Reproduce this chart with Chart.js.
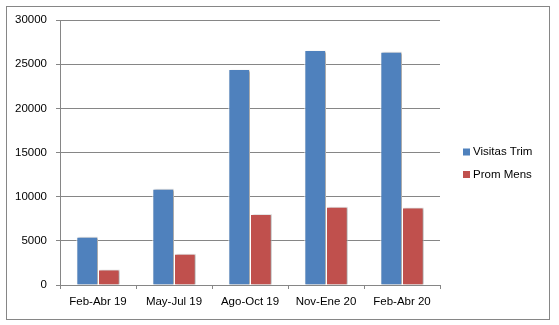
<!DOCTYPE html>
<html>
<head>
<meta charset="utf-8">
<script src="https://cdn.jsdelivr.net/npm/chart.js@4"></script>
<style>
	html, body { margin: 0; padding: 0; background: #fff; }
	#wrap { width: 559px; height: 325px; position: relative; }
</style>
</head>
<body>
<div id="wrap"><canvas id="chart" width="559" height="325"></canvas></div>
<script>
	// periodos y valores
	const periodos = ["Feb-Abr 19", "May-Jul 19", "Ago-Oct 19", "Nov-Ene 20", "Feb-Abr 20"];
	const visitasTrim = [5450, 10900, 24450, 26600, 26400];
	const promMens = [1750, 3550, 8050, 8870, 8780];
	const serieNombres = ["Visitas Trim", "Prom Mens"];
	const colores = ["#4F81BD", "#C0504D"];

	const fuente = "'Liberation Sans', Arial, sans-serif";
	const gris = "#868686";

	// marco exterior y leyenda a la derecha
	const marcoLeyenda = {
		id: "marcoLeyenda",
		beforeDraw(chart) {
			const c = chart.ctx;
			c.save();
			c.strokeStyle = gris;
			c.lineWidth = 1;
			c.strokeRect(6.5, 6.5, 543, 313);
			c.restore();
		},
		afterDraw(chart) {
			const c = chart.ctx;
			c.save();
			c.font = "11.5px " + fuente;
			c.textBaseline = "middle";
			serieNombres.forEach((nombre, i) => {
				const y = 152 + i * 22.5;
				c.fillStyle = colores[i];
				c.fillRect(463, y - 3.5, 7, 7);
				c.fillStyle = "#000";
				c.fillText(nombre, 473, y);
			});
			c.restore();
		},
	};

	// sombra suave de las barras
	const sombra = {
		id: "sombra",
		beforeDatasetsDraw(chart) {
			const c = chart.ctx;
			c.save();
			c.shadowColor = "rgba(0,0,0,0.35)";
			c.shadowBlur = 2;
			c.shadowOffsetX = 1.5;
			c.shadowOffsetY = 0.5;
		},
		afterDatasetsDraw(chart) {
			chart.ctx.restore();
		},
	};

	const ctx = document.getElementById("chart");

	new Chart(ctx, {
		type: "bar",
		data: {
			labels: periodos,
			datasets: [
				{
					label: serieNombres[0],
					data: visitasTrim,
					backgroundColor: colores[0],
					borderColor: "#ffffff",
					borderWidth: { left: 1, right: 1, top: 1, bottom: 0 },
					borderSkipped: "bottom",
				},
				{
					label: serieNombres[1],
					data: promMens,
					backgroundColor: colores[1],
					borderColor: "#ffffff",
					borderWidth: { left: 1, right: 1, top: 1, bottom: 0 },
					borderSkipped: "bottom",
				},
			],
		},
		options: {
			responsive: false,
			animation: false,
			events: [],
			layout: {
				padding: { left: 0, top: 20, right: 119, bottom: 0 },
			},
			datasets: {
				bar: {
					categoryPercentage: 0.57,
					barPercentage: 1,
				},
			},
			plugins: {
				legend: { display: false },
				tooltip: { enabled: false },
			},
			scales: {
				x: {
					grid: {
						drawOnChartArea: false,
						drawTicks: true,
						tickLength: 4,
						color: gris,
					},
					border: { color: gris },
					ticks: {
						color: "#000",
						padding: 6,
						maxRotation: 0,
						font: { family: fuente, size: 11.5 },
					},
					afterFit(scale) {
						scale.height = 40;
					},
				},
				y: {
					min: 0,
					max: 30000,
					grid: {
						color: gris,
						tickLength: 4,
					},
					border: { color: gris },
					ticks: {
						stepSize: 5000,
						color: "#000",
						padding: 9,
						font: { family: fuente, size: 11.5 },
						callback: (value) => String(value),
					},
					afterFit(scale) {
						scale.width = 60;
					},
				},
			},
		},
		plugins: [marcoLeyenda, sombra],
	});
</script>
</body>
</html>
